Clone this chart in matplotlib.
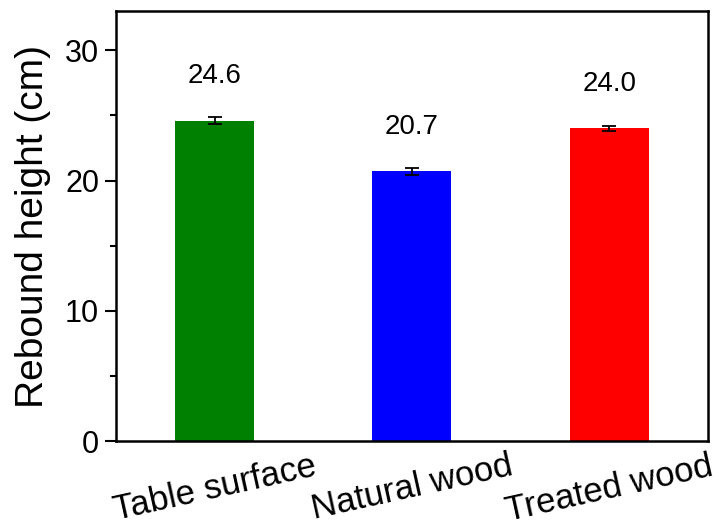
import matplotlib
matplotlib.use("Agg")
import matplotlib.pyplot as plt
from matplotlib.ticker import MultipleLocator

plt.rcParams['font.family'] = ['Liberation Sans', 'DejaVu Sans']

categories = ["Table surface", "Natural wood", "Treated wood"]
values = [24.6, 20.7, 24.0]
errors = [0.25, 0.25, 0.2]
value_labels = ["24.6", "20.7", "24.0"]
colors = ["#008000", "#0000FF", "#FF0000"]

fig = plt.figure(figsize=(7.24, 5.29), dpi=100)
ax = fig.add_axes([0.160, 0.166, 0.818, 0.813])

x = list(range(1, len(categories) + 1))
ax.bar(x, values, width=0.4, color=colors, zorder=2)
ax.errorbar(x, values, yerr=errors, fmt='none', ecolor='black',
            elinewidth=1.3, capsize=4.7, capthick=1.3, zorder=3)
for xi, v, lab in zip(x, values, value_labels):
    ax.text(xi, v + 3.4, lab, ha='center', va='center', fontsize=20)

ax.set_xlim(0.5, 3.5)
ax.set_ylim(0, 33)
ax.yaxis.set_major_locator(MultipleLocator(10))
ax.yaxis.set_minor_locator(MultipleLocator(5))
ax.set_xticks(x)
ax.set_xticklabels(categories, rotation=12.5, ha='center', fontsize=25)
ax.tick_params(axis='x', length=0, pad=6)
ax.tick_params(axis='y', which='major', direction='out', length=8, width=1.5,
               labelsize=22, pad=4)
ax.tick_params(axis='y', which='minor', direction='out', length=4.5, width=1.5)
for s in ax.spines.values():
    s.set_linewidth(1.8)
ax.set_ylabel("Rebound height (cm)", fontsize=28, labelpad=10)

fig.savefig("out.png", dpi=100)
